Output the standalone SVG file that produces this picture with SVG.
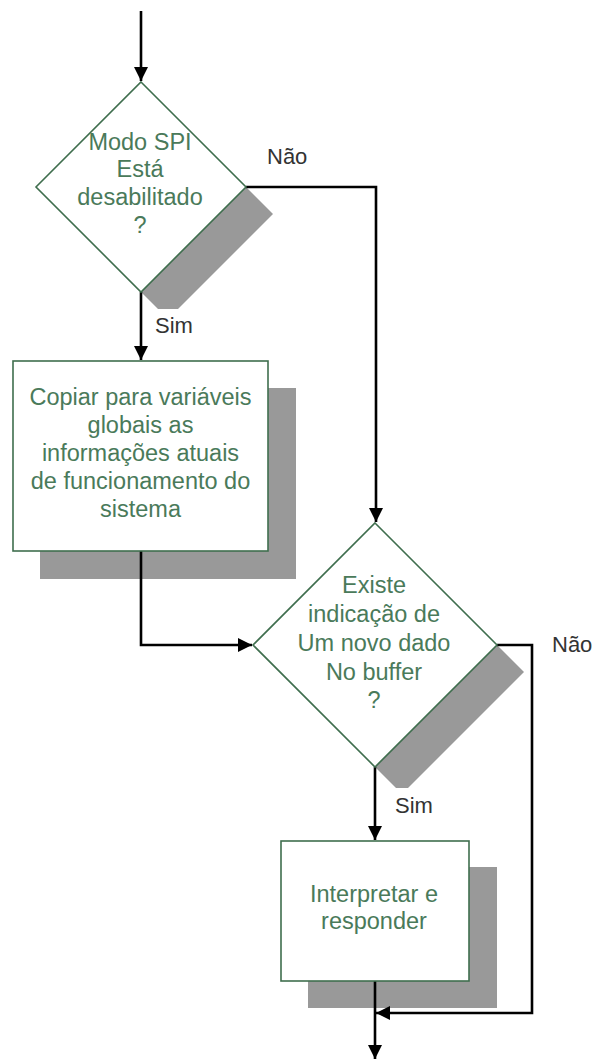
<svg xmlns="http://www.w3.org/2000/svg" width="597" height="1061" viewBox="0 0 597 1061">
  <style>
    .shape { fill: #ffffff; stroke: #3f6e4e; stroke-width: 1.6; }
    .shadow { fill: #999999; }
    .node-text { font-family: "Liberation Sans", Arial, sans-serif; font-size: 23.5px; fill: #4a7a5a; text-anchor: middle; }
    .label { font-family: "Liberation Sans", Arial, sans-serif; font-size: 22px; fill: #333333; }
    .wire { fill: none; stroke: #000000; stroke-width: 2.6; }
  </style>
  <defs>
    <marker id="arrow" viewBox="0 0 14 14" refX="14" refY="7" markerWidth="14" markerHeight="14" markerUnits="userSpaceOnUse" orient="auto">
      <path d="M0,0 L14,7 L0,14 Z" fill="#000000"/>
    </marker>
  </defs>

  <rect width="597" height="1061" fill="#ffffff"/>

  <!-- shadows sit behind every shape -->
  <g id="shadows">
    <polygon class="shadow" points="168,109 273,214 168,319 63,214"/>
    <rect class="shadow" x="40" y="388" width="256" height="191"/>
    <polygon class="shadow" points="402,550 524,672 402,794 280,672"/>
    <rect class="shadow" x="308" y="867" width="189" height="141"/>
  </g>

  <g id="connectors">
    <line class="wire" x1="141" y1="11" x2="141" y2="81" marker-end="url(#arrow)"/>
    <polyline class="wire" points="246,187 376,187 376,522" marker-end="url(#arrow)"/>
    <line class="wire" x1="141" y1="292" x2="141" y2="360" marker-end="url(#arrow)"/>
    <polyline class="wire" points="141,551 141,645 252,645" marker-end="url(#arrow)"/>
    <line class="wire" x1="375" y1="767" x2="375" y2="840" marker-end="url(#arrow)"/>
    <polyline class="wire" points="497,645 532,645 532,1013 376,1013" marker-end="url(#arrow)"/>
    <line class="wire" x1="375" y1="981" x2="375" y2="1059" marker-end="url(#arrow)"/>
  </g>

  <g id="labels">
    <text class="label" x="267" y="164">Não</text>
    <rect x="152" y="309" width="44" height="27" fill="#ffffff"/>
    <text class="label" x="155" y="333">Sim</text>
    <text class="label" x="552" y="652">Não</text>
    <rect x="392" y="788" width="46" height="27" fill="#ffffff"/>
    <text class="label" x="395" y="813">Sim</text>
  </g>

  <g id="decision-spi">
    <polygon class="shape" points="141,82 246,187 141,292 36,187"/>
    <text class="node-text" x="140" y="150">Modo SPI</text>
    <text class="node-text" x="140" y="177">Está</text>
    <text class="node-text" x="140" y="205">desabilitado</text>
    <text class="node-text" x="140" y="233">?</text>
  </g>

  <g id="copy-globals">
    <rect class="shape" x="13" y="361" width="255" height="190"/>
    <text class="node-text" x="140.5" y="405">Copiar para variáveis</text>
    <text class="node-text" x="140.5" y="433">globais as</text>
    <text class="node-text" x="140.5" y="461">informações atuais</text>
    <text class="node-text" x="140.5" y="489">de funcionamento do</text>
    <text class="node-text" x="140.5" y="517">sistema</text>
  </g>

  <g id="decision-buffer">
    <polygon class="shape" points="375,523 497,645 375,767 253,645"/>
    <text class="node-text" x="374" y="593">Existe</text>
    <text class="node-text" x="374" y="622">indicação de</text>
    <text class="node-text" x="374" y="651">Um novo dado</text>
    <text class="node-text" x="374" y="680">No buffer</text>
    <text class="node-text" x="374" y="708">?</text>
  </g>

  <g id="interpret-respond">
    <rect class="shape" x="281" y="841" width="188" height="140"/>
    <text class="node-text" x="374" y="902">Interpretar e</text>
    <text class="node-text" x="374" y="929">responder</text>
  </g>
</svg>
